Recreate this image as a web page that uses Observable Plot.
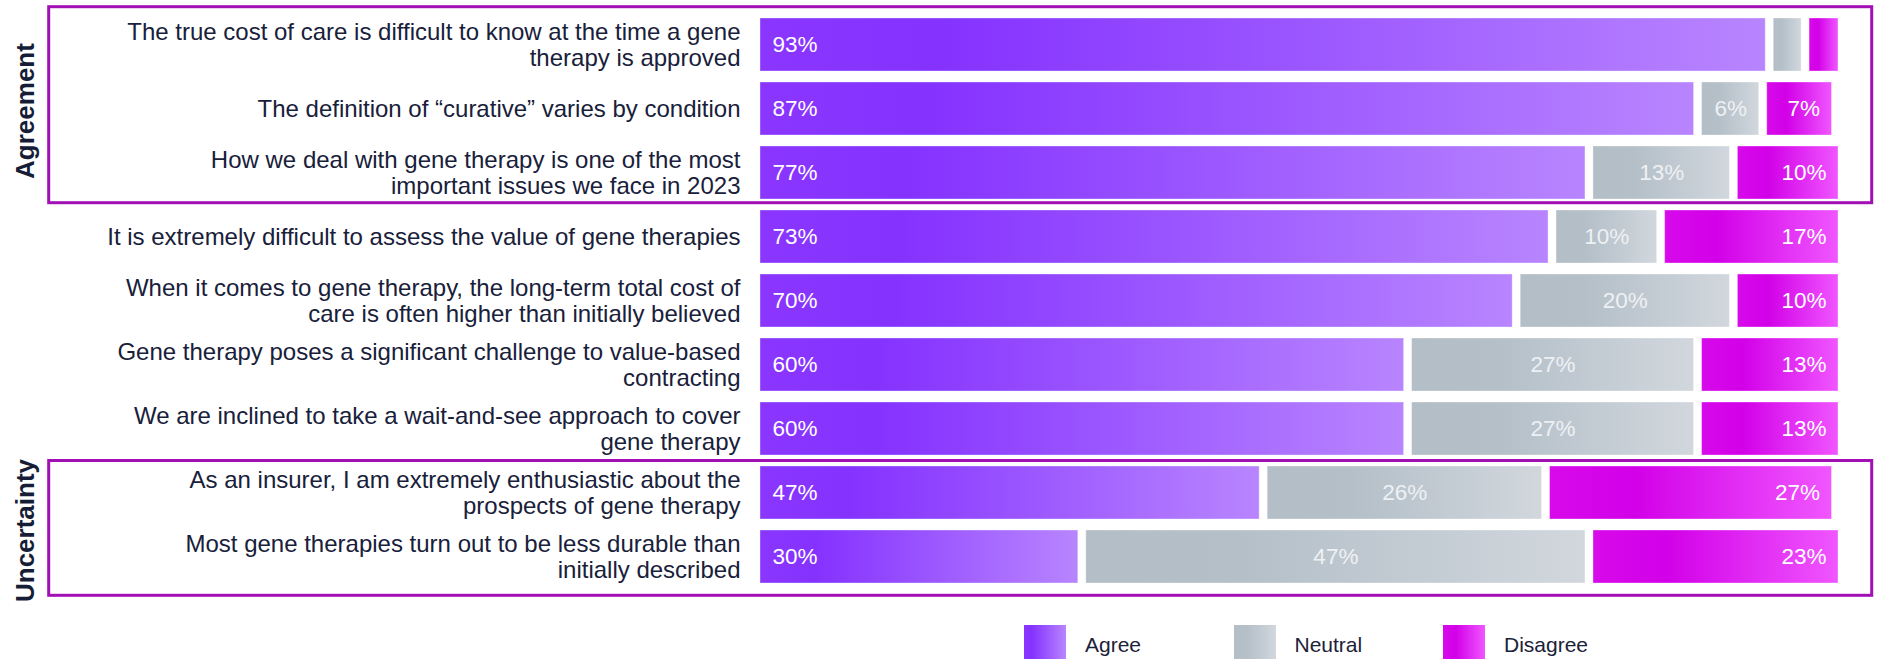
<!DOCTYPE html>
<html><head><meta charset="utf-8">
<script src="https://cdn.jsdelivr.net/npm/d3@7"></script>
<script src="https://cdn.jsdelivr.net/npm/@observablehq/plot@0.6"></script>
<style>
body{margin:0;background:#fff;font-family:"Liberation Sans",Arial,sans-serif;}
#wrap{position:relative;width:1878px;height:659px;overflow:hidden;background:#fff;}
#legend{position:absolute;left:1024px;top:625px;display:flex;}
.item{display:flex;align-items:flex-start;width:209.5px;}
.sw{width:42px;height:40px;margin-right:19px;flex:none;}
.item span{font-size:21px;color:#1b2238;line-height:1;margin-top:9px;}
</style></head><body>
<div id="wrap"><div id="chart"></div><div id="legend"></div></div>
<script>
// ---- data ----
const statements = [
  "The true cost of care is difficult to know at the time a gene\ntherapy is approved",
  "The definition of \u201ccurative\u201d varies by condition",
  "How we deal with gene therapy is one of the most\nimportant issues we face in 2023",
  "It is extremely difficult to assess the value of gene therapies",
  "When it comes to gene therapy, the long-term total cost of\ncare is often higher than initially believed",
  "Gene therapy poses a significant challenge to value-based\ncontracting",
  "We are inclined to take a wait-and-see approach to cover\ngene therapy",
  "As an insurer, I am extremely enthusiastic about the\nprospects of gene therapy",
  "Most gene therapies turn out to be less durable than\ninitially described"
];
const agree    = [93.3, 86.7, 76.7, 73.3, 70.0, 60.0, 60.0, 46.7, 30.0];
const neutral  = [ 3.3,  6.0, 13.3, 10.0, 20.0, 26.7, 26.7, 26.0, 46.7];
const disagree = [ 3.4,  6.7, 10.0, 16.7, 10.0, 13.3, 13.3, 26.7, 23.3];
const responses = ["Agree", "Neutral", "Disagree"];
const groupNames = ["Agreement", "Uncertainty"];
const groupFirst = [0, 7];
const groupLast  = [2, 8];

// ---- colours ----
const gradStops = {
  Agree:    [["0%", "#8a36ff"], ["18%", "#8532ff"], ["100%", "#b885ff"]],
  Neutral:  [["0%", "#b3bec7"], ["30%", "#b4bfc8"], ["100%", "#d1d7dd"]],
  Disagree: [["0%", "#d70aea"], ["30%", "#d200e8"], ["100%", "#f056ff"]]
};
const fills = {Agree: "url(#gAgree)", Neutral: "url(#gNeutral)", Disagree: "url(#gDisagree)"};
const textColor = "#18203a";
const boxColor = "#a10fb5";

const values = [agree, neutral, disagree];
const table = statements.flatMap((s, i) => responses.map((r, j) => ({statement: s, response: r, value: values[j][i]})));
const fmt = v => `${Math.round(v)}%`;

const plot = Plot.plot({
  width: 1878, height: 610,
  marginLeft: 756, marginRight: 36, marginTop: 9, marginBottom: 19,
  x: {domain: [0, 100], axis: null},
  y: {domain: statements, axis: null, paddingInner: 0.176, paddingOuter: 0.088},
  color: {type: "identity"},
  style: {fontFamily: "'Liberation Sans', Arial, sans-serif", background: "white", overflow: "visible"},
  marks: [
    Plot.barX(table, Plot.stackX({x: "value", y: "statement", z: "response",
      fill: d => fills[d.response], insetLeft: 4, insetRight: 4,
      stroke: "white", strokeOpacity: 0.35, strokeWidth: 1})),
    Plot.text(table, Plot.stackX1({x: "value", y: "statement", z: "response",
      text: d => d.response === "Agree" && d.value >= 5 ? fmt(d.value) : null,
      textAnchor: "start", dx: 16, fill: "white", fontSize: 22.5})),
    Plot.text(table, Plot.stackX({x: "value", y: "statement", z: "response",
      text: d => d.response === "Neutral" && d.value >= 5 ? fmt(d.value) : null,
      fill: "#eef1f4", fontSize: 22.5})),
    Plot.text(table, Plot.stackX2({x: "value", y: "statement", z: "response",
      text: d => d.response === "Disagree" && d.value >= 5 ? fmt(d.value) : null,
      textAnchor: "end", dx: -16, fill: "white", fontSize: 22.5})),
    Plot.text(statements, {y: d => d, text: d => d, frameAnchor: "left", textAnchor: "end",
      dx: -16, fontSize: 24, lineHeight: 1.05, fill: textColor}),
    Plot.text([groupNames[0]], {y: () => statements[1], text: d => d, frameAnchor: "left",
      textAnchor: "middle", lineAnchor: "middle",
      dx: -731, dy: 2, rotate: -90, fontSize: 26, fontWeight: "bold", fill: "#161d36"}),
    Plot.text([groupNames[1]], {y: () => statements[8], text: d => d, frameAnchor: "left",
      textAnchor: "middle", lineAnchor: "middle",
      dx: -731, dy: -26.5, rotate: -90, fontSize: 26, fontWeight: "bold", fill: "#161d36"})
  ]
});
document.getElementById("chart").appendChild(plot);

// gradients (one per bar, objectBoundingBox)
const svg = d3.select(plot);
const defs = svg.insert("defs", ":first-child");
for (const r of responses) {
  const g = defs.append("linearGradient").attr("id", "g" + r).attr("x1", 0).attr("x2", 1).attr("y1", 0).attr("y2", 0);
  for (const [o, c] of gradStops[r]) g.append("stop").attr("offset", o).attr("stop-color", c);
}

// group boxes, positioned from the y scale
const ys = plot.scale("y");
const padTop = [11.3, 5.5], padBottom = [3.7, 12.3];
groupNames.forEach((name, k) => {
  const top = ys.apply(statements[groupFirst[k]]) - padTop[k];
  const bottom = ys.apply(statements[groupLast[k]]) + ys.bandwidth + padBottom[k];
  svg.append("rect").attr("x", 48.7).attr("y", top).attr("width", 1871.7 - 48.7).attr("height", bottom - top)
    .attr("fill", "none").attr("stroke", boxColor).attr("stroke-width", 3);
});

// legend
const legend = d3.select("#legend");
const cssGrad = r => `linear-gradient(to right, ${gradStops[r].map(([o, c]) => c + " " + o).join(", ")})`;
for (const r of responses) {
  const it = legend.append("div").attr("class", "item");
  it.append("div").attr("class", "sw").style("background", cssGrad(r));
  it.append("span").text(r);
}
</script>
</body></html>
